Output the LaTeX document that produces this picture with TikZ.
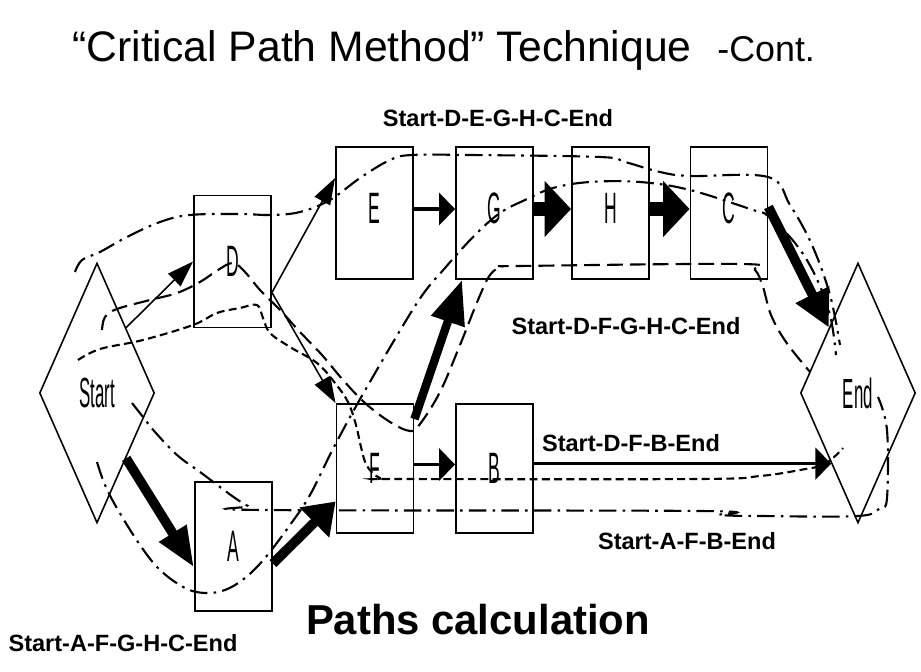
\documentclass[tikz,border=0pt]{standalone}
\usepackage{fontspec}
\setmainfont{Liberation Sans}
\usetikzlibrary{arrows.meta,shapes.geometric,calc}
\newcommand{\condtxt}[1]{\scalebox{0.4}[1]{#1}}
\begin{document}
\begin{tikzpicture}[x=0.02cm,y=-0.02cm,
  box/.style={draw,line width=1.1pt,minimum width=1.54cm,minimum height=2.64cm,inner sep=0pt,font=\fontsize{25pt}{25pt}\selectfont},
  lowbox/.style={box,minimum height=2.58cm},
  dia/.style={draw,diamond,line width=0.9pt,minimum width=2.3cm,minimum height=5.2cm,inner sep=0pt,font=\fontsize{24pt}{24pt}\selectfont},
  ptxt/.style={font=\bfseries\fontsize{13.4pt}{14pt}\selectfont,inner sep=0pt},
  thinarr/.style={line width=0.9pt,-{Triangle[length=15pt,width=10pt]}},
  medarr/.style={line width=2.2pt,-{Triangle[length=9pt,width=18pt]}},
  bigarr/.style={line width=8pt,-{Triangle[length=15pt,width=31pt]}},
  pdashdot/.style={line width=1.2pt,dash pattern=on 10pt off 3.5pt on 1.5pt off 3.5pt},
  plong/.style={line width=1.2pt,dash pattern=on 9pt off 4pt},
  pshort/.style={line width=1.2pt,dash pattern=on 4.5pt off 2.5pt}
]
\useasboundingbox (0,0) rectangle (921,672);

% title
\node[anchor=base west,inner sep=0pt,font=\fontsize{24.3pt}{26pt}\selectfont] (title) at (72,62) {“Critical Path Method” Technique};
\node[anchor=base west,inner sep=0pt,font=\fontsize{20.4pt}{22pt}\selectfont] (cont) at (717,62) {-Cont.};

% nodes
\node[dia] (Start) at (97,393) {\condtxt{Start}};
\node[dia] (End) at (858,393) {\condtxt{End}};
\node[box] (D) at (232.5,261.5) {\condtxt{D}};
\node[box] (E) at (374.5,213) {\condtxt{\raisebox{5pt}{E}}};
\node[box] (G) at (494.5,213) {\condtxt{\raisebox{5pt}{G}}};
\node[box] (H) at (610.5,213) {\condtxt{\raisebox{5pt}{H}}};
\node[box] (C) at (729,213) {\condtxt{\raisebox{5pt}{C}}};
\node[lowbox] (F) at (375,468.5) {\condtxt{F}};
\node[lowbox] (B) at (494.5,468.5) {\condtxt{B}};
\node[lowbox] (A) at (233.5,546.5) {\condtxt{A}};

% activity arrows
\draw[thinarr] (Start.north east) -- (D.west);
\draw[thinarr] ($(D.east)+(0,31)$) -- ($(E.west)+(0,-35)$);
\draw[thinarr] ($(D.east)+(0,31)$) -- (F.north west);
\draw[medarr] ($(E.east)+(0,-4)$) -- ($(G.west)+(0,-4)$);
\draw[bigarr] ($(G.east)+(0,-4)$) -- ($(H.west)+(0,-4)$);
\draw[bigarr] ($(H.east)+(0,-4)$) -- ($(C.west)+(0,-4)$);
\draw[line width=5.5pt,-{Triangle[length=21pt,width=20pt]}] ($(C.east)+(0,-6)$) -- (End.north west);
\draw[line width=5.5pt,-{Triangle[length=23pt,width=17pt]}] (Start.south east) -- ($(A.west)+(0,21)$);
\draw[line width=5.5pt,-{Triangle[length=17pt,width=23pt]}] ($(A.east)+(0,17)$) -- ($(F.west)+(0,33)$);
\draw[line width=4.8pt,-{Triangle[length=25pt,width=19pt]}] ($(F.north east)+(0,16)$) -- ($(G.south west)+(7,0)$);
\draw[medarr] ($(F.east)+(0,-4)$) -- ($(B.west)+(0,-4)$);
\coordinate (BE) at ($(End.west)!0.54!(End.south)$);
\draw[line width=1.9pt,-{Triangle[length=9pt,width=18pt]}] (B.east |- BE) -- (BE);

% path traces
% Start-D-E-G-H-C-End
\draw[pdashdot] plot[smooth,tension=0.6] coordinates {(75,272) (82,260) (100,252) (127,237) (160,222) (190,215) (240,214) (271,215) (300,212) (330,200) (360,178) (390,160) (412,155) (470,155) (600,157) (625,162) (660,172) (690,176) (768,177) (790,205) (812,245) (830,295) (840,345)};
% Start-A-F-G-H-C-End
\draw[pdashdot] plot[smooth,tension=0.6] coordinates {(97,462) (105,485) (118,510) (140,545) (160,570) (185,588) (205,593) (225,590) (245,578) (265,558) (290,525) (310,495) (335,445) (367,387) (417,303) (445,268) (475,235) (500,213) (525,200) (553,188) (590,182) (640,182) (690,190) (753,210) (768,216) (795,243) (815,275) (830,315) (836,355)};
% Start-D-F-G-H-C-End
\draw[plong] plot[smooth,tension=0.6] coordinates {(102,330) (105,317) (117,309) (150,300) (177,293) (200,282) (218,270) (233,263) (245,272) (260,290) (280,310) (300,332) (322,355) (343,380) (365,403) (390,422) (410,431) (420,424) (440,392) (460,345) (478,300) (490,275) (502,267) (520,266) (740,264) (755,270) (763,287) (771,315) (786,342) (810,372)};
% Start-D-F-B-End
\draw[pshort] plot[smooth,tension=0.6] coordinates {(78,360) (100,349) (143,340) (193,325) (217,313) (240,308) (257,305) (263,318) (270,333) (290,347) (317,363) (335,383) (348,402) (356,425) (361,447) (367,466) (380,478) (400,479) (700,479) (760,476) (800,470) (825,464) (843,448)};
% Start-A-F-B-End
\draw[pdashdot] plot[smooth,tension=0.6] coordinates {(132,403) (143,417) (155,432) (177,455) (200,472) (220,487) (235,498) (248,506) (262,510) (700,511) (720,515) (760,516) (858,516) (880,508) (887,498) (887,430) (878,397)};

% texts
\node[ptxt] (t1) at (498,118) {Start-D-E-G-H-C-End};
\node[ptxt] (t2) at (626,326) {Start-D-F-G-H-C-End};
\node[ptxt] (t3) at (631,443) {Start-D-F-B-End};
\node[ptxt] (t4) at (687,541) {Start-A-F-B-End};
\node[ptxt] (t5) at (123,643) {Start-A-F-G-H-C-End};
\node[inner sep=0pt,font=\bfseries\fontsize{23.8pt}{26pt}\selectfont] (pc) at (478,620) {Paths calculation};
\end{tikzpicture}
\end{document}
